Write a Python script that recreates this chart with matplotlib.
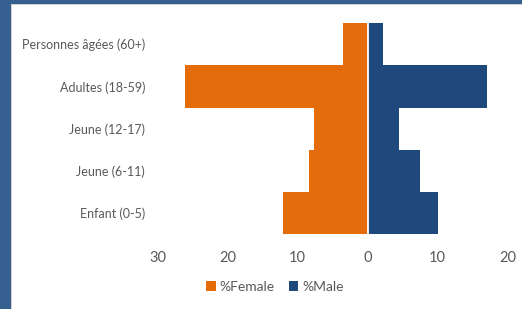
import matplotlib
matplotlib.use("Agg")
import matplotlib.pyplot as plt
from matplotlib.patches import Rectangle
from matplotlib.ticker import FixedLocator, FuncFormatter

categories = ["Enfant (0-5)", "Jeune (6-11)", "Jeune (12-17)", "Adultes (18-59)", "Personnes âgées (60+)"]
pct_female = [12.1, 8.4, 7.7, 26.1, 3.5]
pct_male = [10.1, 7.4, 4.5, 17.1, 2.2]
x_ticks = [-30, -20, -10, 0, 10, 20]

ORANGE = "#E46C0A"
BLUE = "#1F497D"
FRAME = "#36608F"
GREY_TXT = "#595959"

plt.rcParams["font.family"] = ["Lato", "DejaVu Sans"]

W, H = 522, 309
fig = plt.figure(figsize=(W / 100, H / 100), dpi=100)
fig.patch.set_facecolor("white")

# blue frame on top and left edge
fig.add_artist(Rectangle((0, 1 - 4 / H), 1, 4 / H, transform=fig.transFigure,
                         facecolor=FRAME, edgecolor="none"))
fig.add_artist(Rectangle((0, 1 - 5 / H), 1, 1 / H, transform=fig.transFigure,
                         facecolor="#d0d0d0", edgecolor="none"))
fig.add_artist(Rectangle((0, 0), 11 / W, 1, transform=fig.transFigure,
                         facecolor=FRAME, edgecolor="none"))
fig.add_artist(Rectangle((11 / W, 0), 1 / W, 1 - 4 / H, transform=fig.transFigure,
                         facecolor="#d0d0d0", edgecolor="none"))

left, right = 157.7 / W, 507.7 / W
bottom, top = 1 - 234.3 / H, 1 - 23 / H
ax = fig.add_axes([left, bottom, right - left, top - bottom])

y = range(len(categories))
female_neg = [-v for v in pct_female]
ax.barh(y, female_neg, height=1.0, color=ORANGE, linewidth=0, label="%Female")
ax.barh(y, pct_male, height=1.0, color=BLUE, linewidth=0, label="%Male")
# thin white gap between the two series
ax.axvline(0, color="white", linewidth=1.3)

ax.set_xlim(-30, 20)
ax.set_ylim(-0.5, len(categories) - 0.5)
ax.xaxis.set_major_locator(FixedLocator(x_ticks))
ax.xaxis.set_major_formatter(FuncFormatter(lambda v, p: f"{abs(int(v))}"))
ax.set_yticks(list(y))
ax.set_yticklabels(categories)

for s in ax.spines.values():
    s.set_visible(False)
ax.tick_params(axis="x", length=0, pad=12, labelsize=10.5, labelcolor=GREY_TXT)
ax.tick_params(axis="y", length=0, pad=9, labelsize=9, labelcolor=GREY_TXT)

handles, labels = ax.get_legend_handles_labels()
fig.legend(handles, labels, loc="center", bbox_to_anchor=(275 / W, 1 - 287 / H),
           ncol=2, frameon=False, fontsize=10, labelcolor=GREY_TXT,
           handlelength=0.7, handleheight=0.7, handletextpad=0.3, columnspacing=1.0)

fig.savefig("out.png", dpi=100)
